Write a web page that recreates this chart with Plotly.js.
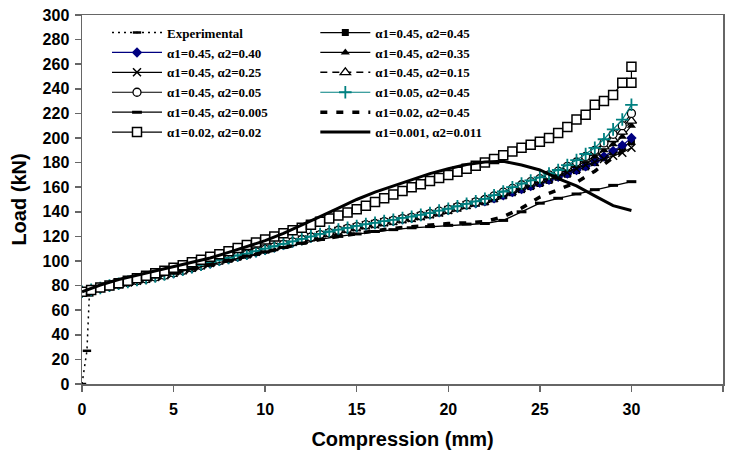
<!DOCTYPE html>
<html>
<head>
<meta charset="utf-8">
<script src="https://cdn.plot.ly/plotly-3.0.1.min.js"></script>
<style>html,body{margin:0;padding:0;background:#fff;}#chart{width:731px;height:455px;}</style>
</head>
<body>
<div id="chart"></div>
<script>
// ---- data ----
var seriesNames = [
  "Experimental",
  "\u03b11=0.45, \u03b12=0.45",
  "\u03b11=0.45, \u03b12=0.40",
  "\u03b11=0.45, \u03b12=0.35",
  "\u03b11=0.45, \u03b12=0.25",
  "\u03b11=0.45, \u03b12=0.15",
  "\u03b11=0.45, \u03b12=0.05",
  "\u03b11=0.05, \u03b12=0.45",
  "\u03b11=0.45, \u03b12=0.005",
  "\u03b11=0.02, \u03b12=0.45",
  "\u03b11=0.02, \u03b12=0.02",
  "\u03b11=0.001, \u03b12=0.011"
];

var xExp = [0, 0.27, 0.4, 0.5];
var yExp = [0, 27, 72, 76];

// compression grid (mm), half-millimetre steps
var xHalf = [0,0.5,1,1.5,2,2.5,3,3.5,4,4.5,5,5.5,6,6.5,7,7.5,8,8.5,9,9.5,10,10.5,11,11.5,12,12.5,13,13.5,14,14.5,15,15.5,16,16.5,17,17.5,18,18.5,19,19.5,20,20.5,21,21.5,22,22.5,23,23.5,24,24.5,25,25.5,26,26.5,27,27.5,28,28.5,29,29.5,30];
// compression grid (mm), whole-millimetre steps
var xWhole = [0,1,2,3,4,5,6,7,8,9,10,11,12,13,14,15,16,17,18,19,20,21,22,23,24,25,26,27,28,29,30];

var y4545 = [75,76.5,78,79.5,81,82.5,84,85.5,87,88.5,90,92,94,96,98,100,101.5,103,105,107,109,111,113,115,117,119,121,122.5,124,125.5,127,128.5,129.5,131,132,133.5,134.5,136,137.5,139,141,143,145,147,148,150.5,153,155.5,158,160.5,163,165.5,168,170.5,173.5,176.5,180,184,188.5,193,197];
var y4540 = [75,76.5,78,79.5,81,82.5,84,85.5,87,88.5,90,92,94,96,98,100,101.5,103.5,105,107,109,111,113,115,117,119,121,123,124.5,126,127.5,129,130,131.5,132.5,134,135,136.5,138,139.5,141.5,143.5,145.5,147,148.5,151,153.5,156,158.5,161,163.5,166,168.5,171,174,177,181,185,189.5,194,200];
var y4535 = [75,76.5,78,79.5,81,82.5,84,85.5,87,88.5,90.5,92.5,94.5,96.5,98.5,100.5,102,104,105.5,107.5,109.5,111.5,113.5,115.5,117.5,119.5,121.5,123,125,126.5,128,129.5,130.5,132,133,134.5,135.5,137,138.5,140,142,144,146,147.5,149,151.5,154,157,160,162.5,165,168,171,174,177.5,181,185,190,195,201,210];
var y4525 = [75,76.5,78,79.5,81,82.5,84,85.5,87,88.5,90.5,92.5,94.5,96.5,98.5,100.5,102,104,105.5,107.5,109.5,111.5,113.5,115.5,117.5,119.5,121,122.5,124.5,126,127.5,129,130,131.5,132.5,134,135,136.5,138,139.5,141.5,143.5,145.5,147.5,149,151.5,154,157,159.5,162,164.5,167,169.5,172,175,178,180.5,183,185.5,188,192];
var y4515 = [75,76.5,78,79.5,81,82.5,84,85.5,87,88.5,90.5,92.5,94.5,96.5,98.5,100.5,102,104,105.5,107.5,109.5,111.5,113.5,115.5,117.5,119.5,121.5,123,125,126.5,128,129.5,130.5,132,133,134.5,135.5,137,138.5,140,142,144,146,148,149.5,152,155,158,161,163.5,166,169,172,175.5,179,183,188,193,199,205,214];
var y4505 = [75,76.5,78,79.5,81,82.5,84,85.5,87,88.5,90.5,92.5,94.5,96.5,98.5,100.5,102,104,105.5,107.5,109.5,111.5,113.5,115.5,117.5,119.5,121.5,123,125,126.5,128,129.5,130.5,132,133,134.5,135.5,137,138.5,140.5,142,144,146,148,150,153,156,159,162,164.5,167,170,173,177,180.5,185,190,196,203,210,220];
var y0545 = [75,76.5,78,80,81.5,83,84.5,86,87.5,89,91,93,95,97,99,101,102.5,104.5,106,108,110,112,114,116,118,120,122,124,125.5,127,128.5,130,131,132.5,133.5,135,136,137.5,139,141,142.5,144.5,146.5,148.5,150.5,153.5,156.5,160,163,165.5,168,171,174,178,182,187,192,199,207,215,227];
var y45005 = [75,78,81,84,87,90,93.5,97,100.5,104,107.5,111,114.5,117.5,120,122,124,125.5,127,128,129,130,130.5,133,140,147,151,154.5,158,161.5,164.5];
var y0245 = [75,78,81,84,87,90,93.5,97,100.5,104,107.5,111,114.5,117.5,120,122.5,124.5,126.5,128,129.5,130.5,131,132,136,143,152,158,164,173,184,195];
var y0202 = [75,76.5,78.5,80,82,84,86,88,90,92,94.5,96.5,99,101,103.5,105.5,108,110.5,113,115,117.5,120,122.5,125,127,129.5,132,134.5,137,139.5,142,145,148,151,154,157,160,162.5,165,167.5,170,172.5,175,177.5,180,183,186,189,192,194.5,197,200,204,209,215,219,227,230,235,245,245];
var x0202End = [30];
var y0202End = [258];
var y001 = [75,80.5,85,88.5,91.5,95,98.5,102.5,107,111.5,116.5,122.5,129,136,143,150,156,161,166,171,175,178.5,180.5,181,178,174,167,161,153,145,141];

// tick labels
var xTicks = [0,5,10,15,20,25,30,35];
var yTicks = [0,20,40,60,80,100,120,140,160,180,200,220,240,260,280,300];

var traces = [
  {x: xExp, y: yExp, name: seriesNames[0], legend: 'legend', mode: 'lines+markers',
   line: {color: '#000', width: 1.5, dash: '2px,4px'},
   marker: {symbol: 'line-ew-open', size: 6, line: {color: '#000', width: 2.5}}},
  {x: xHalf, y: y4545, name: seriesNames[1], legend: 'legend2', mode: 'lines+markers',
   line: {color: '#000', width: 1.2},
   marker: {symbol: 'square', size: 7, color: '#000'}},
  {x: xHalf, y: y4540, name: seriesNames[2], legend: 'legend', mode: 'lines+markers',
   line: {color: '#000080', width: 1.2},
   marker: {symbol: 'diamond', size: 8, color: '#000080'}},
  {x: xHalf, y: y4535, name: seriesNames[3], legend: 'legend2', mode: 'lines+markers',
   line: {color: '#000', width: 1.2},
   marker: {symbol: 'triangle-up', size: 8, color: '#000'}},
  {x: xHalf, y: y4525, name: seriesNames[4], legend: 'legend', mode: 'lines+markers',
   line: {color: '#000', width: 1.2},
   marker: {symbol: 'x-thin-open', size: 8, color: '#000', line: {color: '#000', width: 1.5}}},
  {x: xHalf, y: y4515, name: seriesNames[5], legend: 'legend2', mode: 'lines+markers',
   line: {color: '#000', width: 1.5, dash: '7px,5px'},
   marker: {symbol: 'triangle-up', size: 9, color: '#fff', line: {color: '#000', width: 1.3}}},
  {x: xHalf, y: y4505, name: seriesNames[6], legend: 'legend', mode: 'lines+markers',
   line: {color: '#000', width: 1.2},
   marker: {symbol: 'circle', size: 8, color: '#fff', line: {color: '#000', width: 1.3}}},
  {x: xHalf, y: y0545, name: seriesNames[7], legend: 'legend2', mode: 'lines+markers',
   line: {color: '#008080', width: 1.2},
   marker: {symbol: 'cross-thin-open', size: 9, color: '#008080', line: {color: '#008080', width: 1.8}}},
  {x: xWhole, y: y45005, name: seriesNames[8], legend: 'legend', mode: 'lines+markers',
   line: {color: '#000', width: 1.3},
   marker: {symbol: 'line-ew-open', size: 7, line: {color: '#000', width: 3}}},
  {x: xWhole, y: y0245, name: seriesNames[9], legend: 'legend2', mode: 'lines',
   line: {color: '#000', width: 3.5, dash: '7px,9px'}},
  {x: xHalf.concat(x0202End), y: y0202.concat(y0202End), name: seriesNames[10], legend: 'legend', mode: 'lines+markers',
   line: {color: '#000', width: 1.2},
   marker: {symbol: 'square', size: 9, color: '#fff', line: {color: '#000', width: 1.5}}},
  {x: xWhole, y: y001, name: seriesNames[11], legend: 'legend2', mode: 'lines',
   line: {color: '#000', width: 3}}
];

var legendFont = {family: 'Liberation Serif, Times New Roman, serif', size: 13, weight: 'bold', color: '#000'};
var tickFont = {family: 'Liberation Sans, Arial, sans-serif', size: 16, weight: 'bold', color: '#000'};
var titleFont = {family: 'Liberation Sans, Arial, sans-serif', size: 20, weight: 'bold', color: '#000'};

var layout = {
  width: 731, height: 455,
  margin: {l: 82, r: 8, t: 15, b: 71},
  paper_bgcolor: '#fff', plot_bgcolor: '#fff',
  showlegend: true,
  xaxis: {
    range: [0, 35], tickvals: xTicks, ticktext: xTicks.map(String),
    showgrid: false, zeroline: false,
    showline: true, linecolor: '#666', linewidth: 1.5, mirror: true,
    ticks: 'outside', ticklen: 6, tickcolor: '#666', tickwidth: 1.5,
    ticklabelstandoff: 4,
    tickfont: tickFont,
    title: {text: 'Compression (mm)', font: titleFont, standoff: 15}
  },
  yaxis: {
    range: [0, 300], tickvals: yTicks, ticktext: yTicks.map(String),
    showgrid: false, zeroline: false,
    showline: true, linecolor: '#666', linewidth: 1.5, mirror: true,
    ticks: 'outside', ticklen: 6, tickcolor: '#666', tickwidth: 1.5,
    ticklabelstandoff: 2,
    tickfont: tickFont,
    title: {text: 'Load (kN)', font: titleFont, standoff: 10}
  },
  legend: {
    x: 0.039, y: 0.993, xanchor: 'left', yanchor: 'top',
    bgcolor: 'rgba(0,0,0,0)', borderwidth: 0,
    font: legendFont, itemwidth: 50, tracegroupgap: 0
  },
  legend2: {
    x: 0.364, y: 0.993, xanchor: 'left', yanchor: 'top',
    bgcolor: 'rgba(0,0,0,0)', borderwidth: 0,
    font: legendFont, itemwidth: 50, tracegroupgap: 0
  }
};

Plotly.newPlot('chart', traces, layout, {displayModeBar: false, staticPlot: true});
</script>
</body>
</html>
